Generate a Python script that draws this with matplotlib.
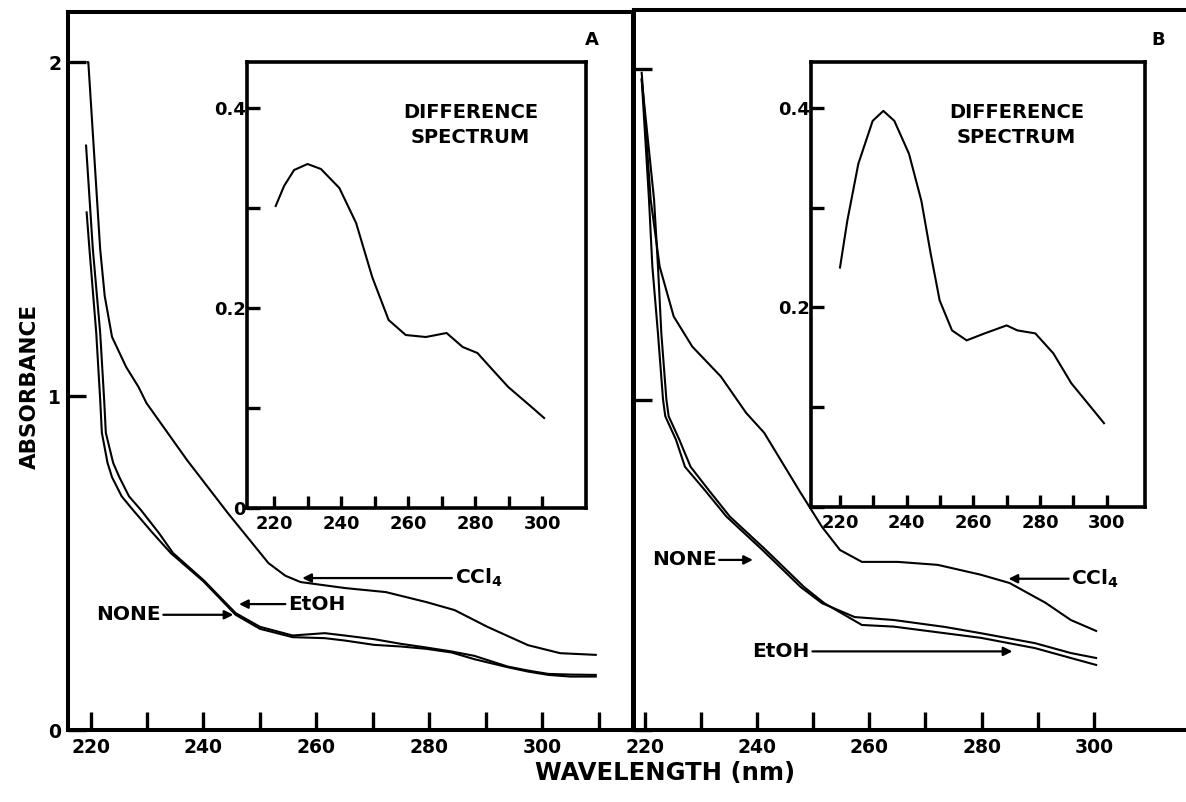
import matplotlib
matplotlib.use("Agg")
import matplotlib.pyplot as plt

plt.rcParams['font.family'] = ['DejaVu Sans']

# ---------------- data ----------------
# Panel A main spectra
a_ccl4_wl = [219.5, 219.6, 221.7, 222.5, 223.8, 226.3, 228.5, 229.9, 237.1, 244.3, 251.5,
             254.5, 257.2, 265.1, 272.3, 279.5, 284.5, 290.3, 297.5, 303.2, 309.5]
a_ccl4_ab = [2.00, 2.00, 1.44, 1.30, 1.177, 1.087, 1.027, 0.979, 0.808, 0.650, 0.500,
             0.462, 0.443, 0.425, 0.413, 0.383, 0.359, 0.309, 0.254, 0.230, 0.225]

a_etoh_wl = [219.2, 220.4, 221.7, 222.4, 222.7, 224.0, 225.1, 226.8, 228.9, 232.1, 234.6,
             240.0, 245.7, 250.0, 255.8, 261.5, 265.0, 270.2, 275.0, 279.5, 284.0, 288.0,
             293.9, 297.5, 301.1, 305.0, 309.5]
a_etoh_ab = [1.75, 1.44, 1.19, 0.99, 0.89, 0.80, 0.757, 0.70, 0.659, 0.59, 0.53,
             0.449, 0.35, 0.309, 0.283, 0.29, 0.283, 0.272, 0.258, 0.247, 0.235, 0.222,
             0.19, 0.178, 0.168, 0.166, 0.165]

a_none_wl = [219.3, 219.8, 221.0, 221.7, 222.0, 223.0, 223.8, 225.5, 227.5, 231.0, 234.2,
             240.0, 245.7, 250.0, 255.8, 261.5, 265.0, 270.2, 275.0, 279.5, 284.0, 288.0,
             293.9, 297.5, 301.1, 305.0, 309.5]
a_none_ab = [1.55, 1.44, 1.19, 0.99, 0.89, 0.80, 0.757, 0.70, 0.659, 0.59, 0.53,
             0.445, 0.345, 0.303, 0.278, 0.275, 0.268, 0.255, 0.25, 0.243, 0.232, 0.212,
             0.188, 0.175, 0.165, 0.160, 0.160]

# Panel B main spectra
b_ccl4_wl = [219.5, 221.1, 222.7, 225.2, 228.5, 233.6, 238.1, 241.3, 247.8, 251.6, 254.8,
             258.7, 265.1, 272.2, 279.9, 285.0, 291.4, 295.9, 300.4]
b_ccl4_ab = [1.99, 1.606, 1.403, 1.252, 1.161, 1.07, 0.96, 0.90, 0.718, 0.615, 0.545,
             0.509, 0.509, 0.50, 0.47, 0.445, 0.385, 0.333, 0.30]

b_none_wl = [219.5, 220.8, 221.4, 222.4, 223.3, 223.7, 225.6, 227.2, 230.7, 234.6, 241.0,
             247.8, 251.6, 257.4, 264.4, 273.5, 279.9, 289.5, 295.9, 300.4]
b_none_ab = [1.97, 1.606, 1.403, 1.20, 1.00, 0.95, 0.879, 0.797, 0.727, 0.646, 0.545,
             0.433, 0.384, 0.342, 0.333, 0.312, 0.293, 0.263, 0.233, 0.218]

b_etoh_wl = [219.5, 221.7, 222.4, 223.0, 223.9, 224.3, 226.2, 228.2, 231.4, 235.2, 241.6,
             248.4, 252.0, 258.7, 264.4, 273.5, 279.9, 289.5, 295.9, 300.4]
b_etoh_ab = [1.97, 1.606, 1.403, 1.20, 1.00, 0.95, 0.879, 0.797, 0.727, 0.646, 0.545,
             0.433, 0.384, 0.318, 0.313, 0.293, 0.279, 0.248, 0.218, 0.197]

# Difference spectra (insets)
a_diff_wl = [220.5, 223.0, 226.0, 230.0, 234.0, 239.5, 244.5, 249.3, 254.2, 259.3, 265.3,
             271.5, 276.3, 280.7, 285.0, 289.9, 297.2, 300.6]
a_diff_ab = [0.302, 0.322, 0.338, 0.344, 0.339, 0.32, 0.285, 0.231, 0.188, 0.173, 0.171,
             0.175, 0.161, 0.155, 0.139, 0.121, 0.10, 0.09]

b_diff_wl = [220.0, 222.2, 225.5, 229.8, 233.0, 236.3, 240.7, 244.4, 247.2, 249.9, 253.6,
             258.0, 263.4, 270.0, 273.2, 278.6, 284.0, 289.4, 294.8, 299.2]
b_diff_ab = [0.240, 0.287, 0.344, 0.387, 0.397, 0.387, 0.354, 0.307, 0.254, 0.207, 0.177,
             0.167, 0.174, 0.182, 0.177, 0.174, 0.154, 0.124, 0.102, 0.084]

main_xticks_a = [220, 230, 240, 250, 260, 270, 280, 290, 300, 310]
main_xticks_b = [220, 230, 240, 250, 260, 270, 280, 290, 300]
main_xlabels = ['220', '', '240', '', '260', '', '280', '', '300', '']
inset_xticks = [220, 230, 240, 250, 260, 270, 280, 290, 300]
inset_xlabels = ['220', '', '240', '', '260', '', '280', '', '300']
inset_yticks = [0, 0.1, 0.2, 0.3, 0.4]
inset_ylabels_a = ['0', '', '0.2', '', '0.4']
inset_ylabels_b = ['', '', '0.2', '', '0.4']

# ---------------- figure ----------------
W, H = 1186, 802
fig = plt.figure(figsize=(W / 100, H / 100), dpi=100)


def px_axes(x0, y0, x1, y1):
    return fig.add_axes([x0 / W, 1 - y1 / H, (x1 - x0) / W, (y1 - y0) / H])


LW_CURVE = 1.5
SPINE = 2.9
LABEL_FS = 14.5


def style_main(ax, xticks, labels, show_y):
    for s in ax.spines.values():
        s.set_linewidth(SPINE)
    ax.set_xticks(xticks)
    ax.set_xticklabels(labels[:len(xticks)])
    ax.set_yticks([0, 1, 2])
    ax.set_yticklabels(['0', '1', '2'] if show_y else ['', '', ''])
    ax.tick_params(axis='both', direction='in', length=13, width=2.4,
                   labelsize=13.5, pad=6)
    ax.tick_params(axis='y', pad=5)
    for lab in ax.get_xticklabels() + ax.get_yticklabels():
        lab.set_fontweight('bold')


def style_inset(ax, ylabels):
    for s in ax.spines.values():
        s.set_linewidth(2.6)
    ax.set_xticks(inset_xticks)
    ax.set_xticklabels(inset_xlabels)
    ax.set_yticks(inset_yticks)
    ax.set_yticklabels(ylabels)
    ax.tick_params(axis='both', direction='in', length=9, width=2.4,
                   labelsize=13)
    ax.tick_params(axis='x', pad=5)
    ax.tick_params(axis='y', pad=1)
    for lab in ax.get_xticklabels() + ax.get_yticklabels():
        lab.set_fontweight('semibold')


# ---- Panel A ----
axA = px_axes(68, 12, 633, 730)
axA.set_xlim(216.0, 316.1)
axA.set_ylim(0, 2.15)
axA.plot(a_ccl4_wl, a_ccl4_ab, color='black', lw=LW_CURVE)
axA.plot(a_etoh_wl, a_etoh_ab, color='black', lw=LW_CURVE)
axA.plot(a_none_wl, a_none_ab, color='black', lw=LW_CURVE)
style_main(axA, main_xticks_a, main_xlabels, True)
axA.text(0.928, 0.961, 'A', transform=axA.transAxes, fontsize=13,
         fontweight='bold', ha='center', va='center')

arrow = dict(arrowstyle='-|>', lw=1.6, color='black', mutation_scale=13,
             shrinkA=0, shrinkB=0)
axA.annotate(r'CCl$_\mathbf{4}$', xy=(257.5, 0.455), xytext=(284.5, 0.455),
             fontsize=LABEL_FS, fontweight='bold', va='center', ha='left',
             arrowprops=arrow)
axA.annotate('EtOH', xy=(246.3, 0.377), xytext=(255.0, 0.377),
             fontsize=LABEL_FS, fontweight='bold', va='center', ha='left',
             arrowprops=arrow)
axA.annotate('NONE', xy=(245.3, 0.345), xytext=(232.4, 0.345),
             fontsize=LABEL_FS, fontweight='bold', va='center', ha='right',
             arrowprops=arrow)

# ---- Panel B ----
axB = px_axes(634, 10, 1186, 730)
axB.set_xlim(218.13, 316.4)
axB.set_ylim(0, 2.18)
axB.plot(b_ccl4_wl, b_ccl4_ab, color='black', lw=LW_CURVE)
axB.plot(b_none_wl, b_none_ab, color='black', lw=LW_CURVE)
axB.plot(b_etoh_wl, b_etoh_ab, color='black', lw=LW_CURVE)
style_main(axB, main_xticks_b, main_xlabels, False)
axB.spines['right'].set_visible(False)
axB.text(0.95, 0.958, 'B', transform=axB.transAxes, fontsize=13,
         fontweight='bold', ha='center', va='center')
axB.annotate(r'CCl$_\mathbf{4}$', xy=(284.8, 0.458), xytext=(296.0, 0.458),
             fontsize=LABEL_FS, fontweight='bold', va='center', ha='left',
             arrowprops=arrow)
axB.annotate('NONE', xy=(239.3, 0.515), xytext=(232.8, 0.515),
             fontsize=LABEL_FS, fontweight='bold', va='center', ha='right',
             arrowprops=arrow)
axB.annotate('EtOH', xy=(285.5, 0.238), xytext=(249.4, 0.238),
             fontsize=LABEL_FS, fontweight='bold', va='center', ha='right',
             arrowprops=arrow)

# ---- Insets ----
inA = px_axes(247, 62, 586, 508)
inA.set_xlim(211.94, 313.1)
inA.set_ylim(0, 0.446)
inA.plot(a_diff_wl, a_diff_ab, color='black', lw=LW_CURVE)
style_inset(inA, inset_ylabels_a)
inA.text(0.66, 0.858, 'DIFFERENCE\nSPECTRUM', transform=inA.transAxes,
         fontsize=14, fontweight='bold', ha='center', va='center',
         linespacing=1.4)

inB = px_axes(811, 62, 1145, 507)
inB.set_xlim(211.3, 311.5)
inB.set_ylim(0, 0.446)
inB.plot(b_diff_wl, b_diff_ab, color='black', lw=LW_CURVE)
style_inset(inB, inset_ylabels_b)
inB.text(0.615, 0.858, 'DIFFERENCE\nSPECTRUM', transform=inB.transAxes,
         fontsize=14, fontweight='bold', ha='center', va='center',
         linespacing=1.4)

# ---- axis titles ----
fig.text(30 / W, 1 - 386 / H, 'ABSORBANCE', rotation=90, fontsize=15.5,
         fontweight='bold', ha='center', va='center')
fig.text(665 / W, 1 - 773 / H, 'WAVELENGTH (nm)', fontsize=17.5,
         fontweight='bold', ha='center', va='center')

fig.savefig('out.png', dpi=100)
